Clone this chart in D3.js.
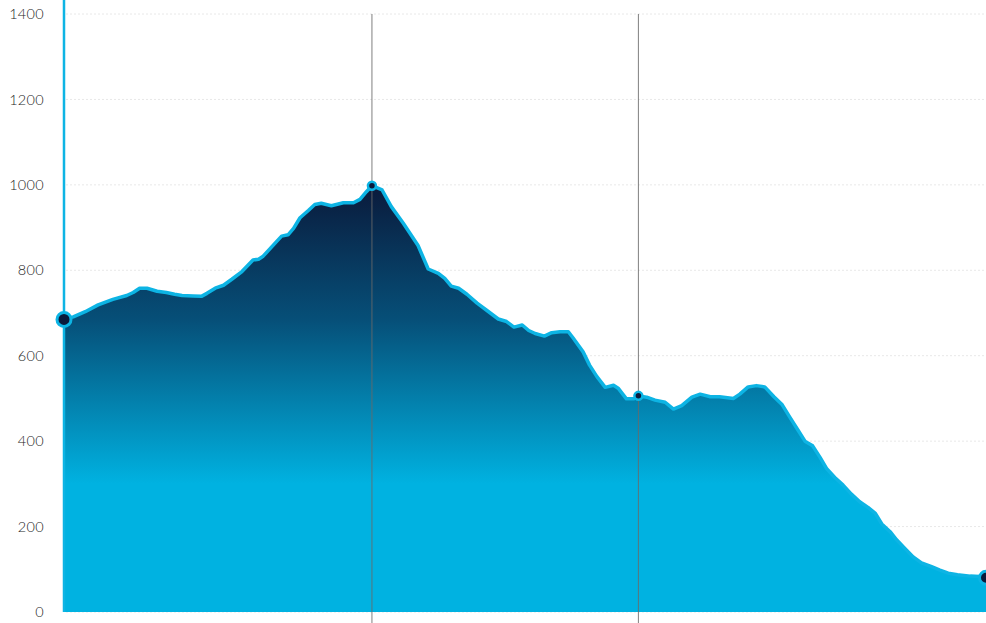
<!DOCTYPE html>
<html>
<head>
<meta charset="utf-8">
<script src="https://cdn.jsdelivr.net/npm/d3@7"></script>
<style>
  html, body { margin: 0; padding: 0; background: #fff; }
  svg { display: block; }
</style>
</head>
<body>
<svg id="chart" width="986" height="623"></svg>
<script>
// distance along the route (units 0..100)
const distance = [0,1.0,2.3,3.7,5.3,6.8,7.5,8.2,9.0,10.1,11.1,12.0,12.8,14.0,14.9,15.5,16.4,17.3,18.2,19.3,20.5,21.1,21.6,22.7,23.6,24.3,24.9,25.6,26.5,27.2,27.9,29.0,30.3,31.4,32.1,32.8,33.4,34.5,35.5,36.8,38.4,39.5,40.6,41.3,42.0,42.8,43.7,44.8,45.8,47.1,48.0,48.8,49.7,50.4,51.1,52.1,52.9,53.8,54.7,55.2,56.3,57.0,57.8,58.7,59.6,60.1,61.0,61.8,62.3,63.2,64.1,65.2,66.1,67.0,68.1,69.0,70.1,71.1,72.6,73.3,74.2,75.1,76.0,77.0,77.9,78.7,79.6,80.4,81.2,82.0,82.7,83.6,84.5,85.4,86.3,87.2,88.0,88.7,89.6,90.3,91.2,92.1,93.0,94.1,95.0,95.9,96.9,98.3,99.3,100];
// elevation values
const elevation = [685,691,703,719,732,741,748,758,758,751,748,744,741,740,739,746,758,765,779,797,824,826,833,859,880,883,898,923,940,954,957,951,958,958,966,984,998,988,949,910,858,803,793,781,763,758,744,723,707,686,680,667,672,659,652,646,654,656,656,642,609,578,551,526,531,524,499,499,506,503,496,491,475,483,503,510,504,504,500,510,527,530,527,504,485,457,426,399,389,362,336,315,297,276,258,245,231,206,188,169,149,129,115,106,98,91,87,84,83,80];
// highlighted waypoints (distance)
const waypointDistances = [33.4, 62.3];
// y ticks
const yTicks = [0, 200, 400, 600, 800, 1000, 1200, 1400];

const data = distance.map((d, i) => ({ d, v: elevation[i] }));

const svg = d3.select("#chart");
const W = 986, H = 623;
const x = d3.scaleLinear().domain([0, 100]).range([64, 986]);
const y = d3.scaleLinear().domain([0, 1400]).range([612, 14]);

const defs = svg.append("defs");
const grad = defs.append("linearGradient")
  .attr("id", "areaGrad")
  .attr("gradientUnits", "userSpaceOnUse")
  .attr("x1", 0).attr("x2", 0)
  .attr("y1", y(1000)).attr("y2", y(300));
grad.append("stop").attr("offset", 0).attr("stop-color", "#0a1a3b");
grad.append("stop").attr("offset", 0.45).attr("stop-color", "#064f78");
grad.append("stop").attr("offset", 1).attr("stop-color", "#00b2e1");

// gridlines
svg.append("g")
  .selectAll("line")
  .data(yTicks)
  .join("line")
  .attr("x1", 66).attr("x2", W)
  .attr("y1", d => y(d)).attr("y2", d => y(d))
  .attr("stroke", "#e8e8e8")
  .attr("stroke-width", 1)
  .attr("stroke-dasharray", "2,2");

// y axis labels
const yAxis = d3.axisLeft(y).tickValues(yTicks).tickSize(0).tickPadding(0).tickFormat(d3.format("d"));
const gy = svg.append("g").attr("transform", "translate(44,0)").call(yAxis);
gy.select(".domain").remove();
gy.selectAll("text")
  .attr("font-size", 14.5)
  .attr("fill", "#1e1e1e")
  .attr("font-weight", 300)
  .attr("font-family", "Lato, 'Open Sans', sans-serif")
  .attr("letter-spacing", "0.3px");

// area
const area = d3.area().x(d => x(d.d)).y0(y(0)).y1(d => y(d.v));
svg.append("path").datum(data).attr("d", area).attr("fill", "url(#areaGrad)");

// vertical waypoint lines
svg.append("g")
  .selectAll("line")
  .data(waypointDistances)
  .join("line")
  .attr("x1", d => x(d)).attr("x2", d => x(d))
  .attr("y1", y(1400)).attr("y2", H)
  .attr("stroke", "#6a6a6a")
  .attr("stroke-opacity", 0.85)
  .attr("stroke-width", 1);

// leading vertical line at start
svg.append("line")
  .attr("x1", x(distance[0])).attr("x2", x(distance[0]))
  .attr("y1", 0).attr("y2", y(0))
  .attr("stroke", "#0db4e4").attr("stroke-width", 2.5);

// profile line
const line = d3.line().x(d => x(d.d)).y(d => y(d.v));
svg.append("path").datum(data).attr("d", line)
  .attr("fill", "none")
  .attr("stroke", "#0db4e4")
  .attr("stroke-width", 3.5)
  .attr("stroke-linejoin", "round");

// markers
const valAt = dd => elevation[distance.indexOf(dd)];
const markers = [
  { d: distance[0], v: elevation[0], r: 7 },
  ...waypointDistances.map(dd => ({ d: dd, v: valAt(dd), r: 4 })),
  { d: distance[distance.length - 1], v: elevation[elevation.length - 1], r: 6.5 }
];
svg.append("g")
  .selectAll("circle")
  .data(markers)
  .join("circle")
  .attr("cx", d => x(d.d)).attr("cy", d => y(d.v))
  .attr("r", d => d.r)
  .attr("fill", "#0a1a3b")
  .attr("stroke", "#0db4e4")
  .attr("stroke-width", d => d.r > 5 ? 3 : 2.5);
</script>
</body>
</html>
